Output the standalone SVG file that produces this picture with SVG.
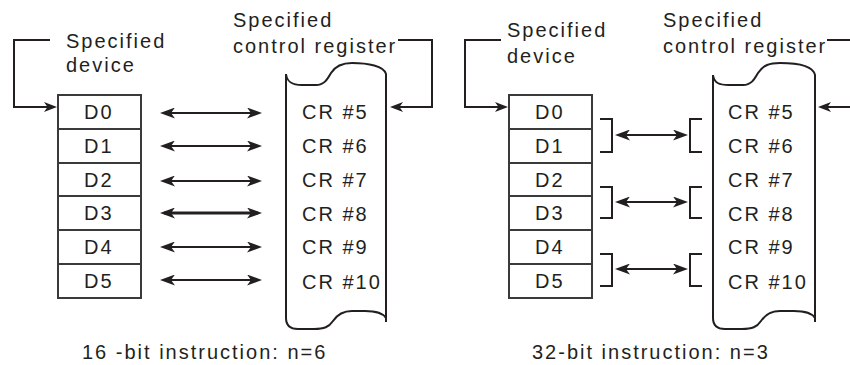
<svg xmlns="http://www.w3.org/2000/svg" width="850" height="365" viewBox="0 0 850 365">
<style>
text{font-family:"Liberation Sans",Arial,sans-serif;font-size:20px;letter-spacing:2px;fill:#231f20}
.box{fill:#fff;stroke:#3a3a3a;stroke-width:2}
.ln{fill:none;stroke:#231f20;stroke-width:2}
.dbl{fill:none;stroke:#231f20;stroke-width:1.8;marker-start:url(#ah);marker-end:url(#ah)}
.scroll{fill:none;stroke:#231f20;stroke-width:2}
</style>
<defs>
<marker id="ah" viewBox="0 0 15 11" refX="11" refY="5.5" markerWidth="15" markerHeight="11" markerUnits="userSpaceOnUse" orient="auto-start-reverse"><path d="M0,0 L15,5.5 L0,11 L4,5.5 Z" fill="#231f20"/></marker>
<marker id="ahs" viewBox="0 0 13 10" refX="9" refY="5" markerWidth="13" markerHeight="10" markerUnits="userSpaceOnUse" orient="auto"><path d="M0,0 L13,5 L0,10 L3.5,5 Z" fill="#231f20"/></marker>
</defs>

<!-- Left panel -->
<g id="left-device-label">
<text x="66" y="48">Specified</text>
<text x="66" y="72">device</text>
</g>
<g id="left-cr-label">
<text x="233" y="27">Specified</text>
<text x="233" y="53">control register</text>
</g>
<g id="left-devices">
<rect class="box" x="58" y="95" width="83" height="34"/>
<rect class="box" x="58" y="129" width="83" height="34"/>
<rect class="box" x="58" y="163" width="83" height="33"/>
<rect class="box" x="58" y="196" width="83" height="34"/>
<rect class="box" x="58" y="230" width="83" height="34"/>
<rect class="box" x="58" y="264" width="83" height="34"/>
<text x="84" y="119">D0</text>
<text x="84" y="153">D1</text>
<text x="84" y="187">D2</text>
<text x="84" y="220">D3</text>
<text x="84" y="254">D4</text>
<text x="84" y="288">D5</text>
</g>
<g id="left-cr">
<path class="scroll" d="M286,74 C287,82 292,85 302,85 L316,85 C324,85 327,80 331,73 C336,65 343,63 352,63 C368,63 384,66 386,74 L386,322 M386,318 C383,313 375,311 365,311 L352,311 C342,311 337,315 333,321 C329,327 324,329 314,329 L298,329 C290,329 286,325 286,318 L286,74"/>
<text x="302" y="119">CR #5</text>
<text x="302" y="153">CR #6</text>
<text x="302" y="187">CR #7</text>
<text x="302" y="221">CR #8</text>
<text x="302" y="254">CR #9</text>
<text x="302" y="289">CR #10</text>
</g>
<text id="left-caption" x="82" y="359">16 -bit instruction: n=6</text>

<!-- Right panel -->
<g id="right-device-label">
<text x="507" y="37">Specified</text>
<text x="507" y="63">device</text>
</g>
<g id="right-cr-label">
<text x="663" y="27">Specified</text>
<text x="663" y="53">control register</text>
</g>
<g id="right-devices">
<rect class="box" x="509" y="95" width="83" height="34"/>
<rect class="box" x="509" y="129" width="83" height="34"/>
<rect class="box" x="509" y="163" width="83" height="33"/>
<rect class="box" x="509" y="196" width="83" height="34"/>
<rect class="box" x="509" y="230" width="83" height="34"/>
<rect class="box" x="509" y="264" width="83" height="34"/>
<text x="535" y="119">D0</text>
<text x="535" y="153">D1</text>
<text x="535" y="187">D2</text>
<text x="535" y="220">D3</text>
<text x="535" y="254">D4</text>
<text x="535" y="288">D5</text>
</g>
<g id="right-cr">
<path class="scroll" d="M713,75 C714,83 719,85 729,85 L743,85 C751,85 754,80 758,73 C763,65 770,63 780,63 C797,63 813,66 815,75 L815,322 M815,318 C812,313 804,311 794,311 L780,311 C770,311 765,315 761,321 C757,327 752,329 742,329 L725,329 C717,329 713,325 713,318 L713,75"/>
<text x="728" y="119">CR #5</text>
<text x="728" y="153">CR #6</text>
<text x="728" y="187">CR #7</text>
<text x="728" y="221">CR #8</text>
<text x="728" y="254">CR #9</text>
<text x="728" y="289">CR #10</text>
</g>
<text id="right-caption" x="532" y="359">32-bit instruction: n=3</text>

<g id="connectors">
<!-- left panel -->
<path class="ln" d="M50,40 H14 V107 H53" marker-end="url(#ahs)"/>
<path class="ln" d="M398,40 H432 V107 H394" marker-end="url(#ahs)"/>
<line class="dbl" x1="164" y1="113" x2="258" y2="113"/>
<line class="dbl" x1="164" y1="146" x2="258" y2="146"/>
<line class="dbl" x1="164" y1="181" x2="258" y2="181"/>
<line class="dbl" x1="164" y1="213" x2="258" y2="213" style="stroke-width:3"/>
<line class="dbl" x1="164" y1="247" x2="258" y2="247"/>
<line class="dbl" x1="164" y1="280" x2="258" y2="280"/>
<!-- right panel -->
<path class="ln" d="M501,40 H465 V107 H504" marker-end="url(#ahs)"/>
<path class="ln" d="M827,40 H860 V107 H822" marker-end="url(#ahs)"/>
<path class="ln" d="M600,119 H612 V152 H600"/>
<path class="ln" d="M702,119 H690 V152 H702"/>
<line class="dbl" x1="619" y1="135" x2="684" y2="135"/>
<path class="ln" d="M600,187 H612 V218 H600"/>
<path class="ln" d="M702,187 H690 V218 H702"/>
<line class="dbl" x1="619" y1="202" x2="684" y2="202"/>
<path class="ln" d="M600,254 H612 V286 H600"/>
<path class="ln" d="M702,254 H690 V286 H702"/>
<line class="dbl" x1="619" y1="269" x2="684" y2="269"/>
</g>
</svg>
